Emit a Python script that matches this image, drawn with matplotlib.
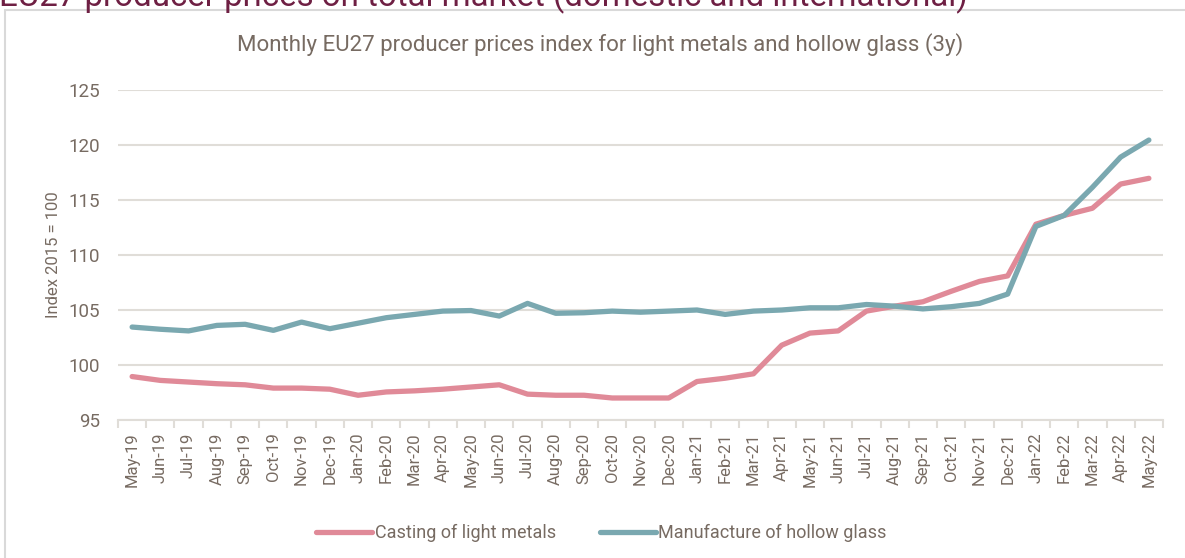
import numpy as np
import matplotlib
matplotlib.use("Agg")
import matplotlib.pyplot as plt
from matplotlib.patches import Rectangle

months = ["May-19", "Jun-19", "Jul-19", "Aug-19", "Sep-19", "Oct-19", "Nov-19", "Dec-19",
          "Jan-20", "Feb-20", "Mar-20", "Apr-20", "May-20", "Jun-20", "Jul-20", "Aug-20",
          "Sep-20", "Oct-20", "Nov-20", "Dec-20", "Jan-21", "Feb-21", "Mar-21", "Apr-21",
          "May-21", "Jun-21", "Jul-21", "Aug-21", "Sep-21", "Oct-21", "Nov-21", "Dec-21",
          "Jan-22", "Feb-22", "Mar-22", "Apr-22", "May-22"]

light_metals = [98.95, 98.6, 98.45, 98.3, 98.2, 97.9, 97.9, 97.8,
                97.25, 97.55, 97.65, 97.8, 98.0, 98.2, 97.35, 97.25,
                97.25, 97.0, 97.0, 97.0, 98.5, 98.8, 99.2, 101.8,
                102.9, 103.1, 104.9, 105.35, 105.75, 106.7, 107.6, 108.1,
                112.8, 113.6, 114.25, 116.45, 116.97]

hollow_glass = [103.45, 103.25, 103.1, 103.6, 103.7, 103.15, 103.9, 103.3,
                103.8, 104.3, 104.6, 104.9, 104.95, 104.45, 105.6, 104.7,
                104.75, 104.9, 104.8, 104.9, 105.0, 104.6, 104.9, 105.0,
                105.2, 105.2, 105.5, 105.35, 105.1, 105.3, 105.6, 106.45,
                112.6, 113.6, 116.15, 118.9, 120.45]

yticks = [95, 100, 105, 110, 115, 120, 125]

txt = "#776b62"
grid_c = "#e0ddd8"
pink = "#e08a98"
teal = "#7aa8b0"

plt.rcParams['font.family'] = ['Roboto', 'DejaVu Sans']

fig = plt.figure(figsize=(11.85, 5.58), dpi=100)
W, H = 1185, 558

# outer chart frame
fig.patches.append(Rectangle((5 / W, -0.01), 1.0, 1 - 10 / H + 0.01, transform=fig.transFigure,
                             fill=False, edgecolor="#d9d9d9", lw=1.5))

# clipped page heading at the very top
fig.text(-1 / W, 1 - 6 / H, "EU27 producer prices on total market (domestic and international)",
         color="#6e1f43", fontsize=23.8, va="baseline", ha="left")

ax = fig.add_axes([118 / W, 1 - 420 / H, (1163 - 118) / W, (420 - 90) / H])
x = np.arange(len(months))
ax.plot(x, light_metals, color=pink, lw=3.8, solid_capstyle="round", solid_joinstyle="round",
        label="Casting of light metals")
ax.plot(x, hollow_glass, color=teal, lw=3.8, solid_capstyle="round", solid_joinstyle="round",
        label="Manufacture of hollow glass")

ax.set_xlim(-0.5, len(months) - 0.5)
ax.set_ylim(95, 125)
ax.set_yticks(yticks)
ax.set_yticklabels([str(t) for t in yticks], fontsize=13.5, color=txt)
ax.tick_params(axis="y", length=0, pad=13)
ax.set_xticks(x)
ax.set_xticklabels(months, rotation=90, fontsize=12, color=txt)
ax.set_xticks(np.arange(-0.5, len(months), 1), minor=True)
ax.tick_params(axis="x", which="major", length=0, pad=9)
ax.tick_params(axis="x", which="minor", length=6, color=grid_c, width=1.5)
ax.grid(axis="y", color=grid_c, lw=1.5)
ax.set_axisbelow(True)
for s in ["top", "right", "left"]:
    ax.spines[s].set_visible(False)
ax.spines["bottom"].set_color(grid_c)
ax.spines["bottom"].set_linewidth(1.5)

ax.set_ylabel("Index 2015 = 100", fontsize=12, color=txt, labelpad=5)

fig.text(0.5065, 1 - 45 / H, "Monthly EU27 producer prices index for light metals and hollow glass (3y)",
         ha="center", va="center", fontsize=16, color=txt)

fig.legend(loc="center", bbox_to_anchor=(0.5076, 1 - 533 / H), ncol=2, frameon=False,
           labelcolor=txt, handlelength=3.1, handletextpad=0.15, columnspacing=2.4,
           prop={"size": 13})

fig.savefig("out.png", dpi=100)
